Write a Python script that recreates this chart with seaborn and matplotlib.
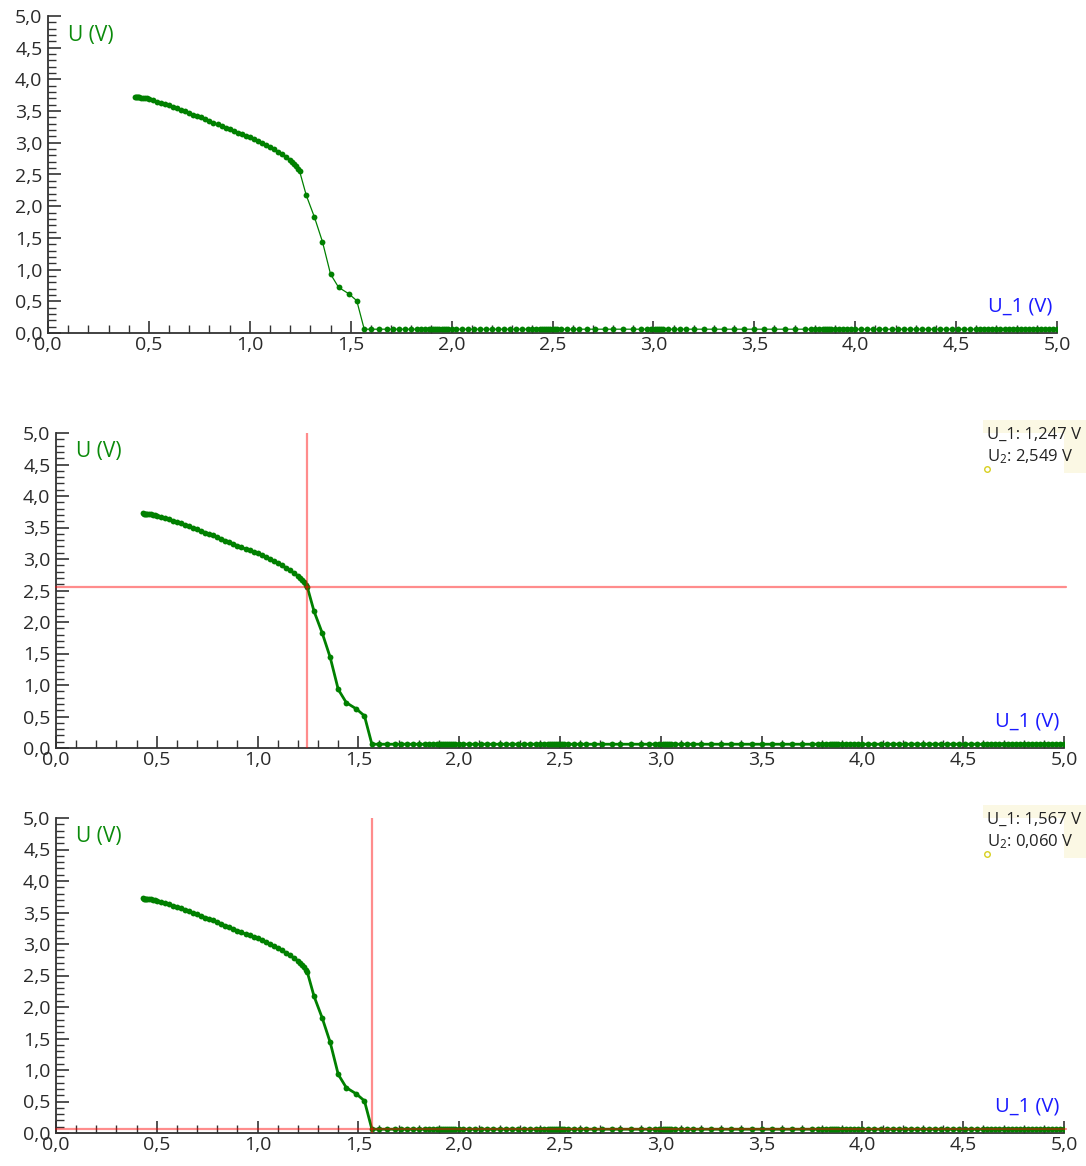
import numpy as np
import pandas as pd
import matplotlib
matplotlib.use("Agg")
import matplotlib.pyplot as plt
from matplotlib.ticker import MultipleLocator, FuncFormatter
from matplotlib.patches import Rectangle
import seaborn as sns

u1_top = [0.430, 0.435, 0.440, 0.445, 0.450, 0.46, 0.47, 0.48, 0.49, 0.50,
          0.52, 0.54, 0.56, 0.58, 0.60, 0.62, 0.64, 0.66, 0.68, 0.70,
          0.72, 0.74, 0.76, 0.78, 0.80, 0.82, 0.84, 0.86, 0.88, 0.90,
          0.92, 0.94, 0.96, 0.98, 1.00, 1.02, 1.04, 1.06, 1.08, 1.10,
          1.12, 1.14, 1.16, 1.18, 1.20, 1.21, 1.22, 1.23, 1.24, 1.247]
u2_top = [3.73, 3.72, 3.72, 3.72, 3.72, 3.71, 3.71, 3.70, 3.70, 3.69,
          3.67, 3.65, 3.63, 3.61, 3.59, 3.57, 3.545, 3.52, 3.495, 3.47,
          3.445, 3.42, 3.40, 3.375, 3.35, 3.32, 3.29, 3.265, 3.24, 3.21,
          3.185, 3.16, 3.14, 3.115, 3.09, 3.06, 3.03, 3.00, 2.97, 2.94,
          2.90, 2.86, 2.82, 2.78, 2.73, 2.70, 2.67, 2.63, 2.59, 2.549]

u1_drop = [1.28, 1.32, 1.36, 1.40, 1.44, 1.49, 1.53]
u2_drop = [2.17, 1.83, 1.44, 0.93, 0.72, 0.62, 0.51]

u1_tail = [1.567, 1.60, 1.64, 1.68, 1.71, 1.74, 1.77, 1.80, 1.83, 1.85,
           1.87, 1.89, 1.90, 1.91, 1.92, 1.93, 1.94, 1.95, 1.96, 1.97,
           1.98, 2.00, 2.02, 2.05, 2.08, 2.11, 2.14, 2.17, 2.20, 2.23,
           2.26, 2.29, 2.32, 2.35, 2.38, 2.40, 2.42, 2.44, 2.45, 2.46,
           2.47, 2.48, 2.49, 2.50, 2.51, 2.52, 2.54, 2.57, 2.60, 2.63,
           2.67, 2.71, 2.76, 2.80, 2.85, 2.90, 2.94, 2.97, 2.99, 3.01,
           3.02, 3.03, 3.04, 3.05, 3.07, 3.10, 3.13, 3.16, 3.20, 3.25,
           3.30, 3.35, 3.40, 3.45, 3.50, 3.55, 3.60, 3.65, 3.70, 3.75,
           3.78, 3.80, 3.82, 3.84, 3.85, 3.86, 3.87, 3.88, 3.90, 3.92,
           3.94, 3.96, 3.98, 4.00, 4.03, 4.06, 4.09, 4.12, 4.15, 4.18,
           4.21, 4.24, 4.27, 4.30, 4.33, 4.36, 4.39, 4.42, 4.45, 4.48,
           4.51, 4.54, 4.57, 4.60, 4.62, 4.64, 4.66, 4.68, 4.70, 4.72,
           4.74, 4.76, 4.78, 4.80, 4.82, 4.84, 4.86, 4.88, 4.90, 4.92,
           4.94, 4.96, 4.98, 5.00]
u2_tail = [0.060, 0.06, 0.06, 0.06, 0.06, 0.06, 0.06, 0.06, 0.06, 0.06,
           0.06, 0.06, 0.06, 0.06, 0.07, 0.06, 0.06, 0.06, 0.06, 0.06,
           0.06, 0.06, 0.06, 0.06, 0.06, 0.06, 0.06, 0.06, 0.06, 0.06,
           0.06, 0.06, 0.06, 0.06, 0.06, 0.06, 0.06, 0.06, 0.07, 0.06,
           0.06, 0.06, 0.06, 0.07, 0.06, 0.06, 0.06, 0.06, 0.06, 0.06,
           0.06, 0.06, 0.06, 0.06, 0.06, 0.06, 0.06, 0.06, 0.06, 0.06,
           0.07, 0.06, 0.06, 0.06, 0.06, 0.06, 0.06, 0.06, 0.06, 0.06,
           0.06, 0.06, 0.06, 0.06, 0.06, 0.06, 0.06, 0.06, 0.06, 0.06,
           0.06, 0.06, 0.06, 0.06, 0.06, 0.07, 0.06, 0.06, 0.06, 0.06,
           0.06, 0.06, 0.06, 0.06, 0.06, 0.06, 0.06, 0.06, 0.06, 0.06,
           0.06, 0.06, 0.06, 0.06, 0.06, 0.06, 0.06, 0.06, 0.06, 0.06,
           0.06, 0.06, 0.06, 0.06, 0.06, 0.06, 0.06, 0.06, 0.07, 0.06,
           0.06, 0.06, 0.06, 0.06, 0.06, 0.06, 0.06, 0.06, 0.06, 0.06,
           0.06, 0.06, 0.06, 0.07]

# Cursorpositionen (Panel 2 und 3)
cursor_u1 = [1.247, 1.567]
cursor_u2 = [2.549, 0.060]
cursor_txt1 = ["U_1: 1,247 V", "U_1: 1,567 V"]
cursor_txt2 = ["U$_2$: 2,549 V", "U$_2$: 0,060 V"]

df = pd.DataFrame({"U1": u1_top + u1_drop + u1_tail,
                   "U2": u2_top + u2_drop + u2_tail})

sns.set_theme(style="white")
plt.rcParams["font.family"] = ["Open Sans", "DejaVu Sans"]
plt.rcParams["mathtext.default"] = "regular"

W, H = 1086, 1166
fig = plt.figure(figsize=(W / 100, H / 100), dpi=100)

# Achsenpositionen in Pixeln: links, unten(y0), rechts, oben(y5)
boxes = [(48, 333, 1057, 16), (56, 748, 1064, 433), (56, 1133, 1064, 818)]
lws = [0.9, 2.0, 2.0]

komma = FuncFormatter(lambda v, p: f"{v:.1f}".replace(".", ","))

axes = []
for i, (l, b, r, t) in enumerate(boxes):
    ax = fig.add_axes([l / W, 1 - b / H, (r - l) / W, (b - t) / H])
    sns.lineplot(data=df, x="U1", y="U2", sort=False, estimator=None, ax=ax,
                 color="#008000", lw=lws[i], marker="o", markersize=4.2,
                 markeredgewidth=0, zorder=3)
    ax.set_xlim(0, 5)
    ax.set_ylim(0, 5)
    ax.set_xlabel("")
    ax.set_ylabel("")
    for s in ["top", "right"]:
        ax.spines[s].set_visible(False)
    for s in ["left", "bottom"]:
        ax.spines[s].set_color("#333333")
        ax.spines[s].set_linewidth(1.3)
    ax.xaxis.set_major_locator(MultipleLocator(0.5))
    ax.xaxis.set_minor_locator(MultipleLocator(0.1))
    ax.yaxis.set_major_locator(MultipleLocator(0.5))
    ax.yaxis.set_minor_locator(MultipleLocator(0.1))
    ax.xaxis.set_major_formatter(komma)
    ax.yaxis.set_major_formatter(komma)
    ax.tick_params(which="major", direction="in", length=9, width=1.2,
                   color="#333333", labelsize=14, labelcolor="#2a2a2a",
                   bottom=True, left=True)
    ax.tick_params(which="minor", direction="in", length=5.5, width=1.0,
                   color="#333333", bottom=True, left=True)
    ax.tick_params(axis="x", which="major", pad=2)
    ax.tick_params(axis="y", which="major", pad=4)
    ax.text(0.02, 0.94, "U (V)", color="#0a8a0a", fontsize=15,
            transform=ax.transAxes, va="center", ha="left")
    ax.text(0.995, 0.085, "U_1 (V)", color="#1a1aff", fontsize=14.5,
            transform=ax.transAxes, va="center", ha="right")
    axes.append(ax)

# Cursor (rote Linien) und Infokasten
info_y = [(420, 435, 457, 469), (805, 820, 842, 854)]
for k, ax in enumerate(axes[1:]):
    ax.axvline(cursor_u1[k], color="red", alpha=0.45, lw=1.6, zorder=4)
    ax.axhline(cursor_u2[k], color="red", alpha=0.45, lw=1.6, zorder=4,
               xmax=1.002, clip_on=False)
    top, y1, y2, yc = info_y[k]
    fig.add_artist(Rectangle((983 / W, 1 - (top + 53) / H),
                             (W - 983) / W, 53 / H, transform=fig.transFigure,
                             facecolor="#fbf8e4", edgecolor="none", zorder=0))
    fig.text(987 / W, 1 - y1 / H, cursor_txt1[k], fontsize=12,
             color="#222222", va="center", ha="left")
    fig.text(987 / W, 1 - y2 / H, cursor_txt2[k], fontsize=12,
             color="#222222", va="center", ha="left")
    fig.add_artist(plt.Line2D([987 / W], [1 - yc / H], marker="o",
                              markersize=4, markerfacecolor="none",
                              markeredgecolor="#d8d020", lw=0,
                              transform=fig.transFigure))

fig.savefig("out.png", dpi=100)
